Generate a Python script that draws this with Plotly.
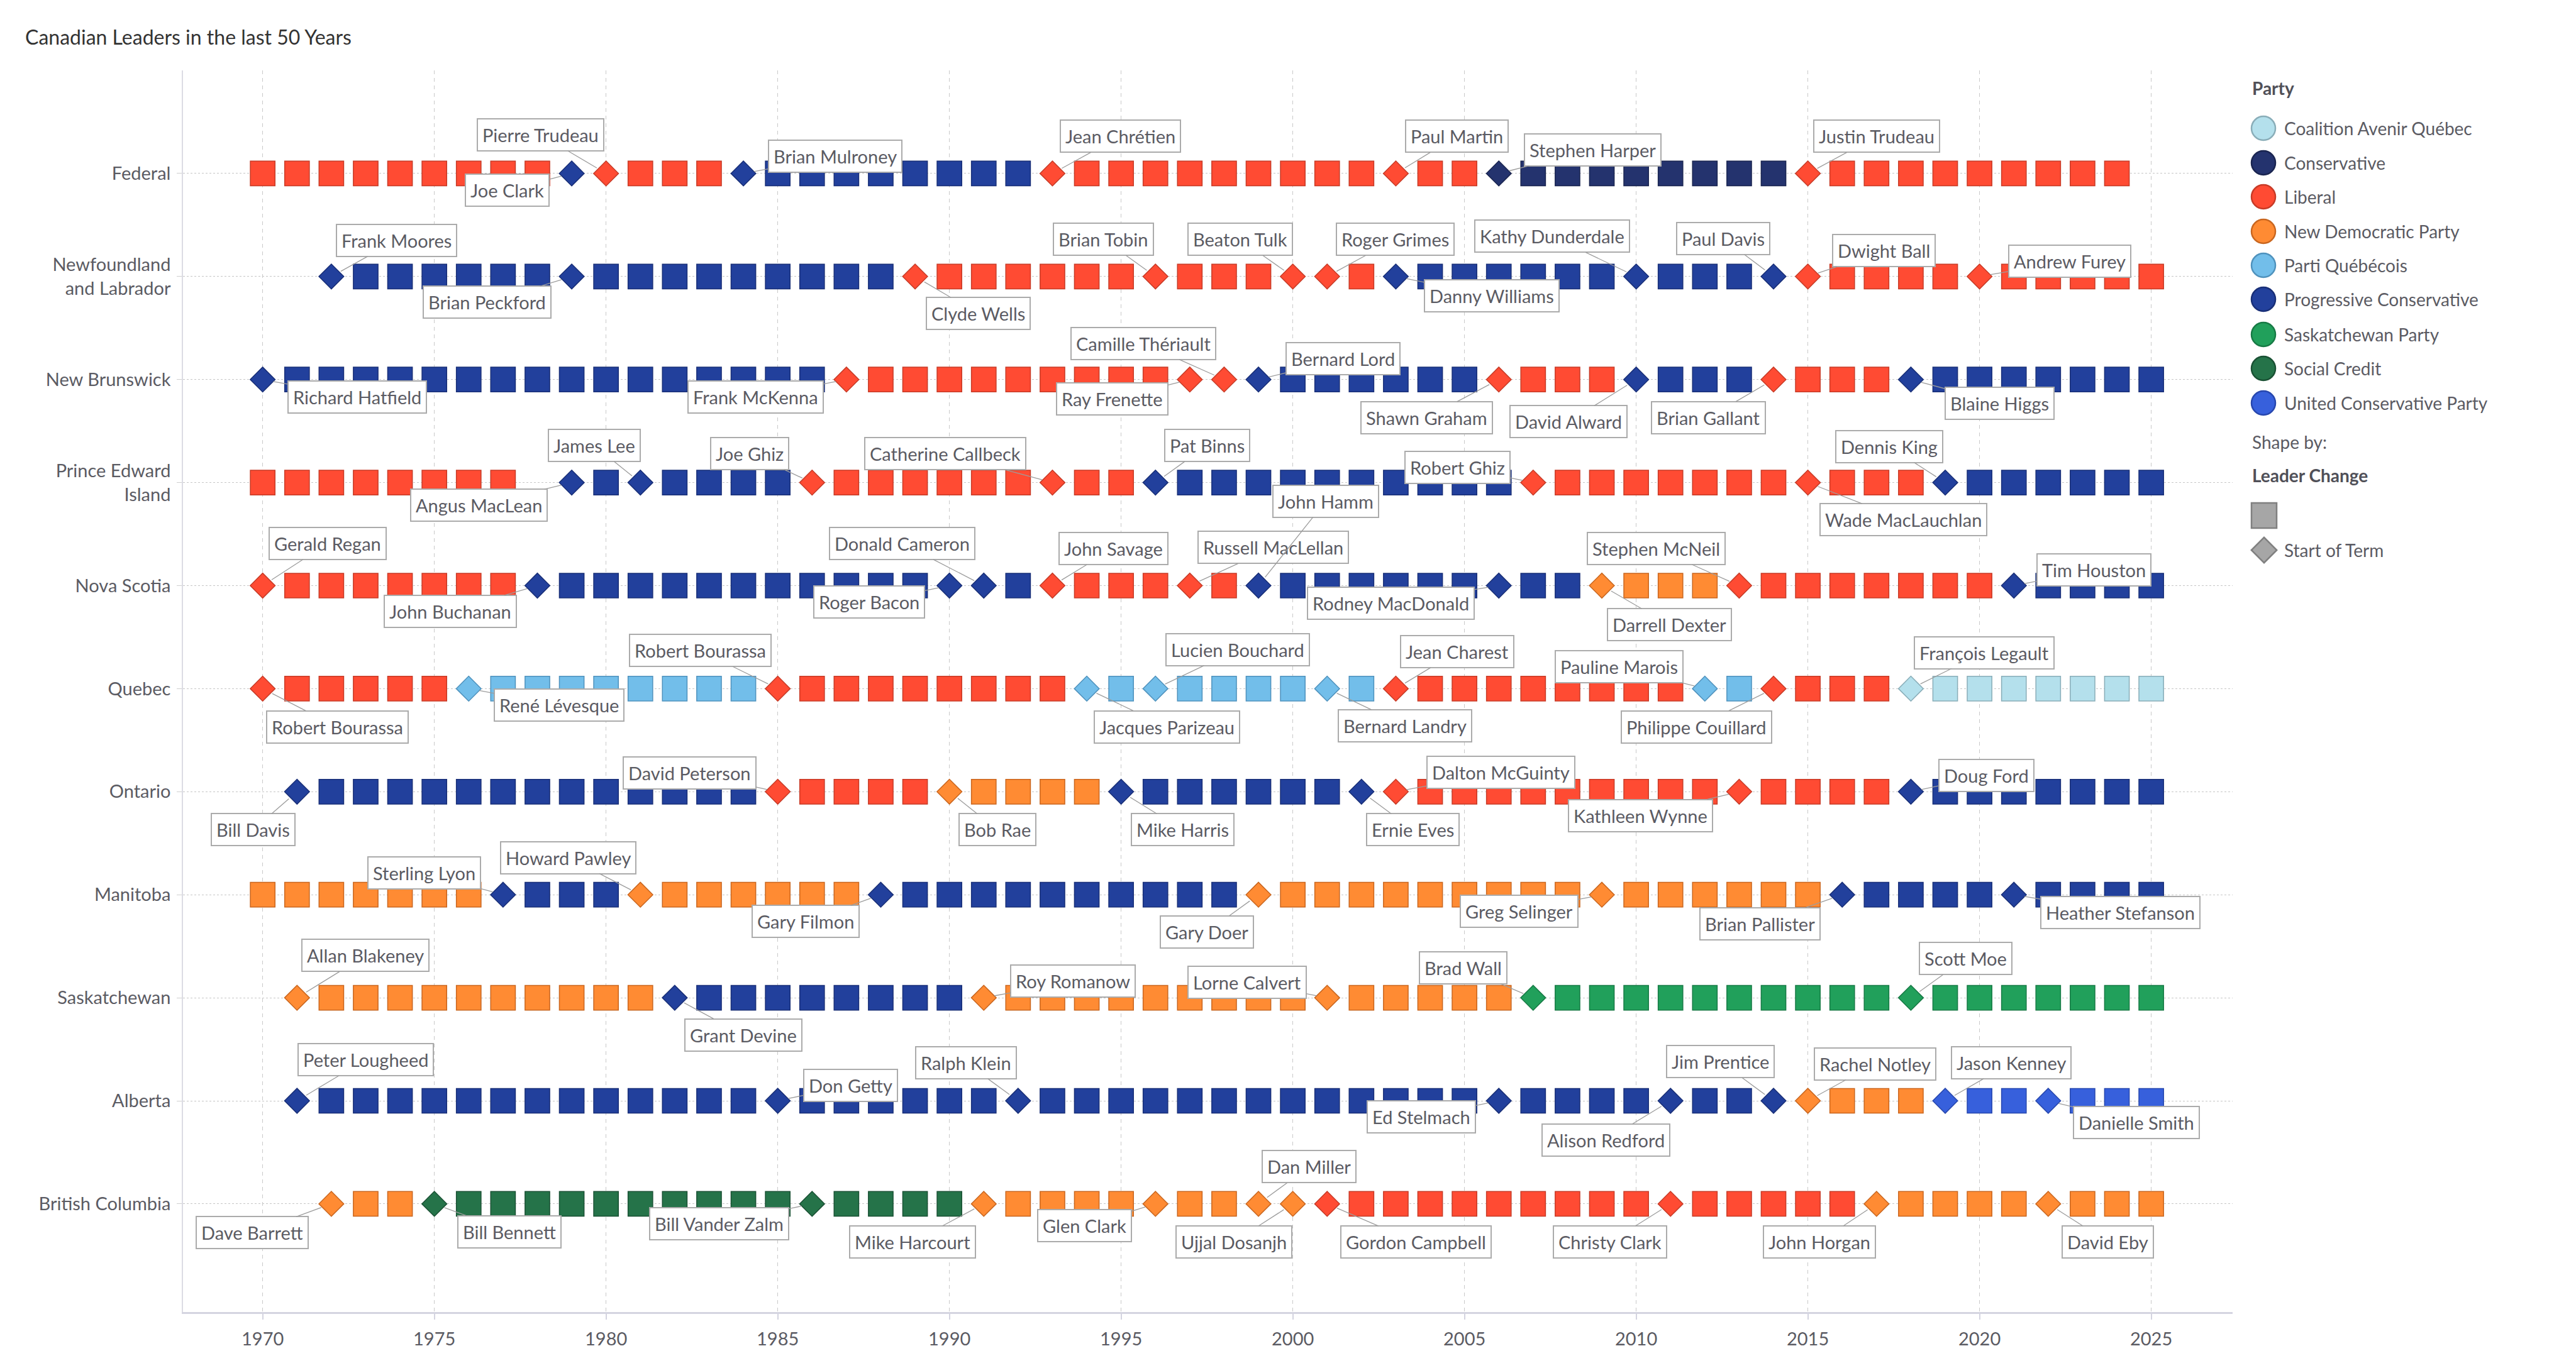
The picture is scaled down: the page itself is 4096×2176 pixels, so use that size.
import plotly.graph_objects as go

W, H = 4096, 2176
FONT = "Lato, 'Open Sans', sans-serif"
TXT = "#5b5b63"

# ---------------- data ----------------
first_year = 1970
years = list(range(1970, 2026))

jurisdictions = ["Federal", "Newfoundland and Labrador", "New Brunswick",
                 "Prince Edward Island", "Nova Scotia", "Quebec", "Ontario",
                 "Manitoba", "Saskatchewan", "Alberta", "British Columbia"]
tick_labels = ["Federal", "Newfoundland<br>and Labrador", "New Brunswick",
               "Prince Edward<br>Island", "Nova Scotia", "Quebec", "Ontario",
               "Manitoba", "Saskatchewan", "Alberta", "British Columbia"]

parties = ["Coalition Avenir Québec", "Conservative", "Liberal",
           "New Democratic Party", "Parti Québécois", "Progressive Conservative",
           "Saskatchewan Party", "Social Credit", "United Conservative Party"]
party_codes = ["A", "C", "L", "N", "Q", "P", "S", "R", "U"]

# governing party for each year 1970..2025, one character per year ('.' = no mark)
party_by_year = {
    "Federal":                   "LLLLLLLLLP" "LLLLPPPPPP" "PPPLLLLLLL" "LLLLLLCCCC" "CCCCCLLLLL" "LLLLL.",
    "Newfoundland and Labrador": "..PPPPPPPP" "PPPPPPPPPL" "LLLLLLLLLL" "LLLPPPPPPP" "PPPPPLLLLL" "LLLLLL",
    "New Brunswick":             "PPPPPPPPPP" "PPPPPPPLLL" "LLLLLLLLLP" "PPPPPPLLLL" "PPPPLLLLPP" "PPPPPP",
    "Prince Edward Island":      "LLLLLLLL.P" "PPPPPPLLLL" "LLLLLLPPPP" "PPPPPPPLLL" "LLLLLLLLLP" "PPPPPP",
    "Nova Scotia":               "LLLLLLLLPP" "PPPPPPPPPP" "PPPLLLLLLP" "PPPPPPPPPN" "NNNLLLLLLL" "LPPPPP",
    "Quebec":                    "LLLLLLQQQQ" "QQQQQLLLLL" "LLLLQQQQQQ" "QQQLLLLLLL" "LLQQLLLLAA" "AAAAAA",
    "Ontario":                   ".PPPPPPPPP" "PPPPPLLLLL" "NNNNNPPPPP" "PPPLLLLLLL" "LLLLLLLLPP" "PPPPPP",
    "Manitoba":                  "NNNNNNNPPP" "PNNNNNNNPP" "PPPPPPPPPN" "NNNNNNNNNN" "NNNNNNPPPP" "PPPPPP",
    "Saskatchewan":              ".NNNNNNNNN" "NNPPPPPPPP" "PNNNNNNNNN" "NNNNNNNSSS" "SSSSSSSSSS" "SSSSSS",
    "Alberta":                   ".PPPPPPPPP" "PPPPPPPPPP" "PPPPPPPPPP" "PPPPPPPPPP" "PPPPPNNNNU" "UUUUUU",
    "British Columbia":          "..NNNRRRRR" "RRRRRRRRRR" "RNNNNNNNNN" "NLLLLLLLLL" "LLLLLLLNNN" "NNNNNN",
}

# start-of-term years and leader names
term_start_years = {
    "Federal": [1979, 1980, 1984, 1993, 2003, 2006, 2015],
    "Newfoundland and Labrador": [1972, 1979, 1989, 1996, 2000, 2001, 2003, 2010, 2014, 2015, 2020],
    "New Brunswick": [1970, 1987, 1997, 1998, 1999, 2006, 2010, 2014, 2018],
    "Prince Edward Island": [1979, 1981, 1986, 1993, 1996, 2007, 2015, 2019],
    "Nova Scotia": [1970, 1978, 1990, 1991, 1993, 1997, 1999, 2006, 2009, 2013, 2021],
    "Quebec": [1970, 1976, 1985, 1994, 1996, 2001, 2003, 2012, 2014, 2018],
    "Ontario": [1971, 1985, 1990, 1995, 2002, 2003, 2013, 2018],
    "Manitoba": [1977, 1981, 1988, 1999, 2009, 2016, 2021],
    "Saskatchewan": [1971, 1982, 1991, 2001, 2007, 2018],
    "Alberta": [1971, 1985, 1992, 2006, 2011, 2014, 2015, 2019, 2022],
    "British Columbia": [1972, 1975, 1986, 1991, 1996, 1999, 2000, 2001, 2011, 2017, 2022],
}
term_leaders = {
    "Federal": ["Joe Clark", "Pierre Trudeau", "Brian Mulroney", "Jean Chrétien",
                "Paul Martin", "Stephen Harper", "Justin Trudeau"],
    "Newfoundland and Labrador": ["Frank Moores", "Brian Peckford", "Clyde Wells", "Brian Tobin",
                                  "Beaton Tulk", "Roger Grimes", "Danny Williams",
                                  "Kathy Dunderdale", "Paul Davis", "Dwight Ball", "Andrew Furey"],
    "New Brunswick": ["Richard Hatfield", "Frank McKenna", "Ray Frenette", "Camille Thériault",
                      "Bernard Lord", "Shawn Graham", "David Alward", "Brian Gallant", "Blaine Higgs"],
    "Prince Edward Island": ["Angus MacLean", "James Lee", "Joe Ghiz", "Catherine Callbeck",
                             "Pat Binns", "Robert Ghiz", "Wade MacLauchlan", "Dennis King"],
    "Nova Scotia": ["Gerald Regan", "John Buchanan", "Roger Bacon", "Donald Cameron",
                    "John Savage", "Russell MacLellan", "John Hamm", "Rodney MacDonald",
                    "Darrell Dexter", "Stephen McNeil", "Tim Houston"],
    "Quebec": ["Robert Bourassa", "René Lévesque", "Robert Bourassa", "Jacques Parizeau",
               "Lucien Bouchard", "Bernard Landry", "Jean Charest", "Pauline Marois",
               "Philippe Couillard", "François Legault"],
    "Ontario": ["Bill Davis", "David Peterson", "Bob Rae", "Mike Harris", "Ernie Eves",
                "Dalton McGuinty", "Kathleen Wynne", "Doug Ford"],
    "Manitoba": ["Sterling Lyon", "Howard Pawley", "Gary Filmon", "Gary Doer",
                 "Greg Selinger", "Brian Pallister", "Heather Stefanson"],
    "Saskatchewan": ["Allan Blakeney", "Grant Devine", "Roy Romanow", "Lorne Calvert",
                     "Brad Wall", "Scott Moe"],
    "Alberta": ["Peter Lougheed", "Don Getty", "Ralph Klein", "Ed Stelmach", "Alison Redford",
                "Jim Prentice", "Rachel Notley", "Jason Kenney", "Danielle Smith"],
    "British Columbia": ["Dave Barrett", "Bill Bennett", "Bill Vander Zalm", "Mike Harcourt",
                         "Glen Clark", "Dan Miller", "Ujjal Dosanjh", "Gordon Campbell",
                         "Christy Clark", "John Horgan", "David Eby"],
}

# ---------------- layout / styling ----------------
party_fill = {"A": "#B4E0EC", "C": "#24336E", "L": "#FF4B33", "N": "#FF8B33", "Q": "#72BEEA",
              "P": "#22409C", "S": "#21A05B", "R": "#257349", "U": "#3760DC"}
party_line = {"A": "#89ADB8", "C": "#1A2550", "L": "#C73B27", "N": "#C9661F", "Q": "#4F92BD",
              "P": "#192F77", "S": "#177A45", "R": "#1A5134", "U": "#2747AE"}

# label box placement: (center year, vertical offset from row) per leader, same order as term lists
label_place = {
    "Federal": [(1977.12, 0.165), (1978.1, -0.375), (1986.67, -0.165), (1994.97, -0.36),
                (2004.77, -0.36), (2008.74, -0.23), (2017.0, -0.36)],
    "Newfoundland and Labrador": [(1973.9, -0.35), (1976.54, 0.25), (1990.84, 0.36), (1994.49, -0.36),
                                  (1998.46, -0.36), (2002.98, -0.36), (2005.8, 0.19), (2007.55, -0.39),
                                  (2012.53, -0.37), (2017.22, -0.25), (2022.62, -0.15)],
    "New Brunswick": [(1972.76, 0.17), (1984.35, 0.17), (1994.75, 0.19), (1995.65, -0.35),
                      (2001.46, -0.2), (2003.9, 0.37), (2008.03, 0.41), (2012.1, 0.37), (2020.58, 0.23)],
    "Prince Edward Island": [(1976.3, 0.22), (1979.65, -0.36), (1984.19, -0.28), (1989.88, -0.28),
                             (1997.5, -0.36), (2004.8, -0.15), (2017.78, 0.36), (2017.37, -0.35)],
    "Nova Scotia": [(1971.9, -0.41), (1975.46, 0.25), (1987.66, 0.16), (1988.63, -0.41),
                    (1994.77, -0.36), (1999.43, -0.37), (2000.96, -0.82), (2002.85, 0.17),
                    (2010.97, 0.38), (2010.58, -0.36), (2023.33, -0.15)],
    "Quebec": [(1972.17, 0.37), (1978.63, 0.16), (1982.74, -0.37), (1996.34, 0.37),
               (1998.4, -0.38), (2003.27, 0.36), (2004.79, -0.36), (2009.5, -0.21),
               (2011.75, 0.37), (2020.13, -0.35)],
    "Ontario": [(1969.72, 0.37), (1982.43, -0.18), (1991.4, 0.37), (1996.8, 0.37),
                (2003.5, 0.37), (2006.06, -0.19), (2010.13, 0.23), (2020.2, -0.155)],
    "Manitoba": [(1974.7, -0.21), (1978.9, -0.36), (1985.82, 0.26), (1997.5, 0.36),
                 (2006.6, 0.16), (2013.6, 0.28), (2024.1, 0.17)],
    "Saskatchewan": [(1973.0, -0.41), (1984.0, 0.36), (1993.6, -0.16), (1998.67, -0.15),
                     (2004.97, -0.29), (2019.59, -0.38)],
    "Alberta": [(1973.0, -0.40), (1987.12, -0.15), (1990.48, -0.37), (2003.74, 0.155),
                (2009.12, 0.38), (2012.45, -0.38), (2016.96, -0.36), (2020.93, -0.37), (2024.57, 0.21)],
    "British Columbia": [(1969.7, 0.28), (1977.19, 0.27), (1983.3, 0.19), (1988.92, 0.37),
                         (1993.94, 0.21), (2000.47, -0.36), (1998.28, 0.37), (2003.58, 0.37),
                         (2009.24, 0.37), (2015.33, 0.37), (2023.74, 0.37)],
}

SQ_SIZE = 39.2
DM_SIZE = 30.5

fig = go.Figure()

for pname, code in zip(parties, party_codes):
    xs, ys, syms, sizes, texts = [], [], [], [], []
    for r, j in enumerate(jurisdictions):
        seq = party_by_year[j]
        starts = term_start_years[j]
        for i, ch in enumerate(seq):
            if ch != code:
                continue
            yr = years[i]
            xs.append(yr)
            ys.append(r)
            if yr in starts:
                syms.append("diamond")
                sizes.append(DM_SIZE)
                texts.append(term_leaders[j][starts.index(yr)])
            else:
                syms.append("square")
                sizes.append(SQ_SIZE)
                texts.append("")
    fig.add_trace(go.Scatter(
        x=xs, y=ys, mode="markers", name=pname, showlegend=False,
        marker=dict(symbol=syms, size=sizes, color=party_fill[code], opacity=1,
                    line=dict(color=party_line[code], width=1.5)),
        text=texts, hovertemplate="%{text} %{x}<extra>" + pname + "</extra>",
        cliponaxis=False,
    ))

annotations = []
for r, j in enumerate(jurisdictions):
    for yr, name, (lx, dy) in zip(term_start_years[j], term_leaders[j], label_place[j]):
        annotations.append(dict(
            x=yr, y=r, xref="x", yref="y",
            ax=lx, ay=r + dy, axref="x", ayref="y",
            text=name, showarrow=True, arrowhead=0, arrowwidth=1.3,
            arrowcolor="#9c9c9c", standoff=17, startstandoff=0,
            font=dict(family=FONT, size=29, color=TXT),
            bgcolor="#ffffff", bordercolor="#ababab", borderwidth=2, borderpad=7,
        ))

# title
annotations.append(dict(
    x=38 / W, y=1 - 59 / H, xref="paper", yref="paper", xanchor="left", yanchor="middle",
    text="Canadian Leaders in the last 50 Years", showarrow=False,
    font=dict(family=FONT, size=32, color="#333333"),
))

# ---------------- manual legend (pixel coordinates) ----------------
leg_x_mark = 3599
leg_x_text = 3630
leg_x_head = 3579
leg_item_y = [204, 259, 313, 368, 422, 476, 532, 586, 641]

fig.add_trace(go.Scatter(
    x=[leg_x_mark] * len(parties), y=leg_item_y, xaxis="x2", yaxis="y2",
    mode="markers", showlegend=False, hoverinfo="skip", cliponaxis=False,
    marker=dict(symbol="circle", size=38, opacity=1,
                color=[party_fill[c] for c in party_codes],
                line=dict(color=[party_line[c] for c in party_codes], width=2.5)),
))
fig.add_trace(go.Scatter(
    x=[3600, 3600], y=[820, 875], xaxis="x2", yaxis="y2",
    mode="markers", showlegend=False, hoverinfo="skip", cliponaxis=False,
    marker=dict(symbol=["square", "diamond"], size=[40, 31], color="#a6a6a6", opacity=1,
                line=dict(color="#808080", width=2.5)),
))

def px_ann(x, y, text, size=28, color=TXT, bold=False):
    return dict(x=x / W, y=1 - y / H, xref="paper", yref="paper", xanchor="left",
                yanchor="middle", text=("<b>%s</b>" % text) if bold else text,
                showarrow=False, font=dict(family=FONT, size=size, color=color))

annotations.append(px_ann(leg_x_head, 140, "Party", bold=True, color="#505058"))
for yy, p in zip(leg_item_y, parties):
    annotations.append(px_ann(leg_x_text, yy, p))
annotations.append(px_ann(leg_x_head, 703, "Shape by:"))
annotations.append(px_ann(leg_x_head, 756, "Leader Change", bold=True, color="#505058"))
annotations.append(px_ann(leg_x_text, 875, "Start of Term"))

fig.update_layout(
    width=W, height=H, margin=dict(l=0, r=0, t=0, b=0, autoexpand=False),
    paper_bgcolor="#ffffff", plot_bgcolor="rgba(0,0,0,0)",
    showlegend=False, annotations=annotations,
    font=dict(family=FONT, size=29, color=TXT),
    xaxis=dict(
        domain=[291 / W, 3550 / W], range=[1967.68, 2027.37],
        tickmode="linear", tick0=1970, dtick=5,
        showgrid=True, gridcolor="#c9c9c9", gridwidth=1, griddash="6px,6px",
        zeroline=False, showline=True, linecolor="#d4d4e0", linewidth=2.5,
        ticks="outside", ticklen=9, tickwidth=1.5, tickcolor="#d4d4e0",
        tickfont=dict(family=FONT, size=29, color=TXT), ticklabelstandoff=6,
        automargin=False, fixedrange=True,
    ),
    yaxis=dict(
        domain=[1 - 2087 / H, 1 - 112 / H], range=[11.05, -1.0],
        tickmode="array", tickvals=list(range(len(jurisdictions))), ticktext=tick_labels,
        showgrid=True, gridcolor="#c6c6c6", gridwidth=1.2, griddash="dot",
        zeroline=False, showline=True, linecolor="#dcdce4", linewidth=1.5,
        ticks="outside", ticklen=8, tickwidth=1.2, tickcolor="#cfcfcf",
        tickfont=dict(family=FONT, size=29, color=TXT), ticklabelstandoff=4,
        automargin=False, fixedrange=True,
    ),
    xaxis2=dict(domain=[0, 1], range=[0, W], visible=False, anchor="y2", fixedrange=True),
    yaxis2=dict(domain=[0, 1], range=[H, 0], visible=False, anchor="x2", fixedrange=True),
)

fig.write_html("out.html")
